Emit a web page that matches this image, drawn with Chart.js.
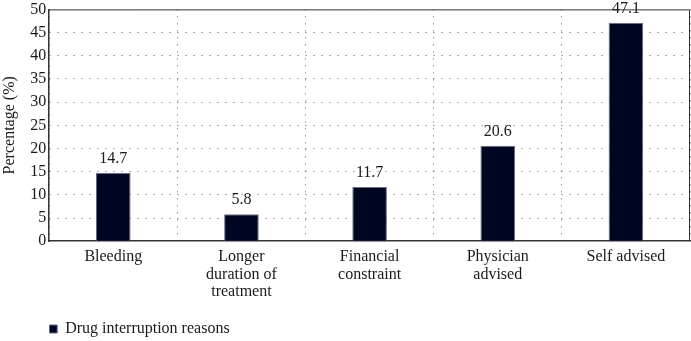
<!DOCTYPE html>
<html>
<head>
<meta charset="utf-8">
<script src="https://cdn.jsdelivr.net/npm/chart.js@4"></script>
<style>
  html, body { margin: 0; padding: 0; background: #fff; }
  #wrap { width: 691px; height: 341px; }
</style>
</head>
<body>
<div id="wrap"><canvas id="chart"></canvas></div>
<script>
// --- Data ---
const categories = [
    'Bleeding',
    ['Longer', 'duration of', 'treatment'],
    ['Financial', 'constraint'],
    ['Physician', 'advised'],
    'Self advised'
];
const seriesName = 'Drug interruption reasons';
const values = [14.7, 5.8, 11.7, 20.6, 47.1];
const yTicks = [0, 5, 10, 15, 20, 25, 30, 35, 40, 45, 50];

const FONT = '"Liberation Serif", "DejaVu Serif", serif';
const BAR = '#000722';

// value labels above the bars
const valueLabels = {
    id: 'valueLabels',
    afterDatasetsDraw(chart) {
        const ctx = chart.ctx;
        const meta = chart.getDatasetMeta(0);
        ctx.save();
        ctx.font = '16px ' + FONT;
        ctx.fillStyle = '#1a1a1a';
        ctx.textAlign = 'center';
        ctx.textBaseline = 'alphabetic';
        meta.data.forEach((bar, i) => {
            ctx.fillText(values[i].toFixed(1), bar.x, bar.y - 10);
        });
        ctx.restore();
    }
};

// top and right frame of the plot area
const frame = {
    id: 'frame',
    afterDraw(chart) {
        const a = chart.chartArea;
        const ctx = chart.ctx;
        ctx.save();
        ctx.strokeStyle = '#333';
        ctx.lineWidth = 1;
        ctx.beginPath();
        ctx.moveTo(a.left, a.top + 0.5);
        ctx.lineTo(a.right - 0.5, a.top + 0.5);
        ctx.lineTo(a.right - 0.5, a.bottom);
        ctx.stroke();
        ctx.restore();
    }
};

// push the legend down a bit
const legendShift = {
    id: 'legendShift',
    afterLayout(chart) {
        if (chart.legend) {
            chart.legend.top += 13;
            chart.legend.bottom += 13;
        }
    }
};

new Chart(document.getElementById('chart'), {
    type: 'bar',
    data: {
        labels: categories,
        datasets: [{
            label: seriesName,
            data: values,
            backgroundColor: BAR,
            borderColor: '#6a6e7e',
            borderWidth: 1,
            barPercentage: 0.27,
            categoryPercentage: 1.0
        }]
    },
    options: {
        responsive: true,
        maintainAspectRatio: false,
        animation: false,
        layout: { padding: { top: 0, right: 1, left: 0, bottom: 7 } },
        scales: {
            x: {
                grid: {
                    offset: true,
                    color: '#666',
                    drawTicks: false
                },
                border: { color: '#333', width: 1.5, dash: [1, 6] },
                ticks: {
                    color: '#1a1a1a',
                    font: { family: FONT, size: 16, lineHeight: 1.1 },
                    padding: 7,
                    maxRotation: 0,
                    autoSkip: false
                }
            },
            y: {
                min: 0,
                max: 50,
                afterBuildTicks(axis) {
                    axis.ticks = yTicks.map(v => ({ value: v }));
                },
                grid: {
                    color: ctx => (ctx.tick && (ctx.tick.value === 0 || ctx.tick.value === 50)) ? 'rgba(0,0,0,0)' : '#555',
                    drawTicks: false
                },
                border: { color: '#333', width: 1.5, dash: [1, 7] },
                ticks: {
                    color: '#1a1a1a',
                    font: { family: FONT, size: 16, lineHeight: 0.8 },
                    padding: 3
                },
                title: {
                    display: true,
                    text: 'Percentage (%)',
                    color: '#1a1a1a',
                    font: { family: FONT, size: 16 },
                    padding: { top: 0, bottom: 8 }
                }
            }
        },
        plugins: {
            legend: {
                position: 'bottom',
                align: 'start',
                fullSize: false,
                labels: {
                    color: '#1a1a1a',
                    font: { family: FONT, size: 16 },
                    boxWidth: 8,
                    boxHeight: 8,
                    padding: 0
                }
            },
            tooltip: { enabled: false }
        }
    },
    plugins: [valueLabels, frame, legendShift]
});
</script>
</body>
</html>
